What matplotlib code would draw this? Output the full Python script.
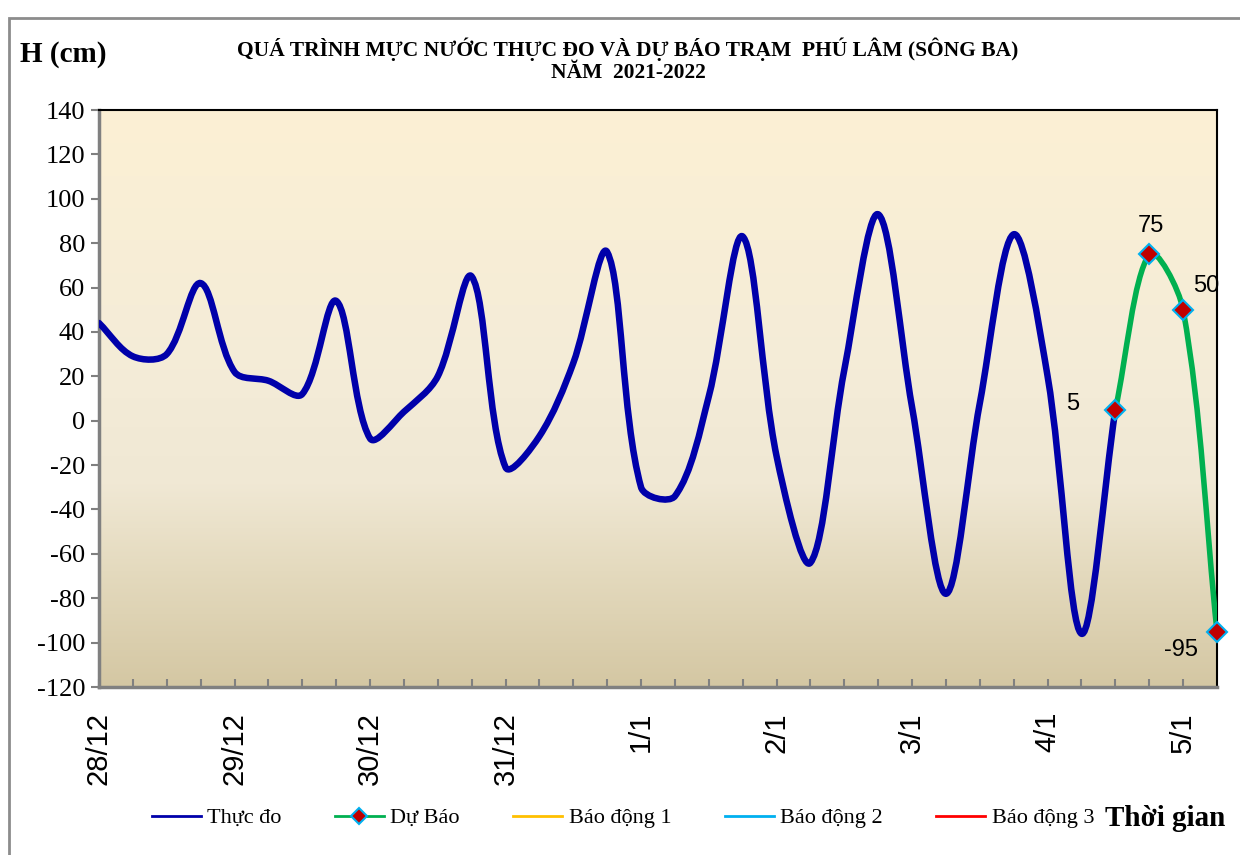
import matplotlib
matplotlib.use("Agg")
import matplotlib.pyplot as plt
import numpy as np
from matplotlib.path import Path
from matplotlib.patches import PathPatch, Rectangle
from matplotlib.lines import Line2D

# du lieu: moi diem cach nhau 6 gio, tu 28/12 den 5/1
thuc_do = [44, 29, 30, 62, 22, 18, 12, 54, -8, 4, 20, 65, -21, -7, 26, 76,
           -30, -34, 11, 83, -16, -64, 23, 93, 6, -78, 8, 84, 20, -96, 5]
du_bao = [5, 75, 50, -95]
du_bao_start = 30
ngay = ['28/12', '29/12', '30/12', '31/12', '1/1', '2/1', '3/1', '4/1', '5/1']
ngay_pos = [0, 4, 8, 12, 16, 20, 24, 28, 32]
n_diem = 34
y_ticks = list(range(-120, 141, 20))

serif = 'Liberation Serif'
sans = 'Liberation Sans'


def smooth_path(ax, x, y):
    # duong cong tron kieu Excel, tinh trong toa do man hinh
    P = ax.transData.transform(np.column_stack([x, y]).astype(float))
    n = len(P)
    verts = [P[0]]
    codes = [Path.MOVETO]
    for i in range(n - 1):
        p0 = P[i - 1] if i > 0 else P[i]
        p1, p2 = P[i], P[i + 1]
        p3 = P[i + 2] if i + 2 < n else P[i + 1]
        d01 = np.hypot(*(p1 - p0))
        d12 = np.hypot(*(p2 - p1))
        d23 = np.hypot(*(p3 - p2))
        c1 = p1 + (p2 - p0) * d12 / (d01 + d12) / 3.0
        c2 = p2 - (p3 - p1) * d12 / (d12 + d23) / 3.0
        verts += [c1, c2, p2]
        codes += [Path.CURVE4] * 3
    verts = ax.transData.inverted().transform(np.array(verts))
    return Path(verts, codes)


fig = plt.figure(figsize=(12.4, 8.55), dpi=100)
ax = fig.add_axes([99 / 1240, 1 - 687 / 855, 1118 / 1240, 577 / 855])
ax.set_xlim(0, n_diem - 1)
ax.set_ylim(-120, 140)

# nen gradient
stops_t = [0.0, 0.45, 0.65, 0.8, 1.0]
stops_c = np.array([[252, 240, 212], [244, 236, 216], [240, 232, 212],
                    [228, 218, 190], [212, 199, 163]]) / 255.0
t = np.linspace(0, 1, 300)
grad = np.stack([np.interp(t, stops_t, stops_c[:, k]) for k in range(3)], axis=1)
ax.imshow(grad[:, None, :], extent=[0, 1, 0, 1], transform=ax.transAxes,
          aspect='auto', zorder=0)
ax.set_xlim(0, n_diem - 1)
ax.set_ylim(-120, 140)

x_td = np.arange(len(thuc_do))
x_db = np.arange(du_bao_start, du_bao_start + len(du_bao))

ax.add_patch(PathPatch(smooth_path(ax, x_td, thuc_do), fill=False, color='#0000AA',
                       lw=4.7, capstyle='round', joinstyle='round', zorder=3))
ax.add_patch(PathPatch(smooth_path(ax, x_db, du_bao), fill=False, color='#00B050',
                       lw=4, capstyle='round', zorder=3))
ax.plot(x_db, du_bao, ls='none', marker='D', ms=10.5, mfc='#C00000', mec='#00B0F0',
        mew=1.5, zorder=4, clip_on=False)

offsets = [(-31, 4), (1, 20), (17, 17), (-26, -13)]
for xi, yi, off in zip(x_db, du_bao, offsets):
    ax.annotate(str(yi), (xi, yi), xytext=off, textcoords='offset points',
                ha='center', va='center', fontsize=17, family=sans)

ax.set_yticks(y_ticks)
ax.set_yticklabels([str(v) for v in y_ticks], family=serif, fontsize=19)
ax.tick_params(axis='y', direction='out', length=6, width=1.5, color='#808080', pad=4)

ax.set_xticks(ngay_pos)
ax.set_xticklabels(ngay, rotation=90, family=sans, fontsize=21, va='top', ha='center')
ax.set_xticks([i for i in range(n_diem - 1) if i not in ngay_pos], minor=True)
ax.tick_params(axis='x', which='both', direction='in', length=6, width=1.5,
               color='#808080', pad=18)

for s in ['left', 'bottom']:
    ax.spines[s].set_color('#808080')
    ax.spines[s].set_linewidth(2.5)
for s in ['top', 'right']:
    ax.spines[s].set_color('black')
    ax.spines[s].set_linewidth(1.5)

# chu thich
handles = [
    Line2D([], [], color='#0000AA', lw=2),
    Line2D([], [], color='#00B050', lw=2, marker='D', ms=8, mfc='#C00000',
           mec='#00B0F0', mew=1.5),
    Line2D([], [], color='#FFC000', lw=2),
    Line2D([], [], color='#00B0F0', lw=2),
    Line2D([], [], color='#FF0000', lw=2),
]
labels = ['Thực đo', 'Dự Báo', 'Báo động 1', 'Báo động 2', 'Báo động 3']
fig.legend(handles, labels, loc='center', bbox_to_anchor=(623 / 1240, 1 - 818 / 855),
           ncol=5, frameon=False, prop={'family': serif, 'size': 16},
           handlelength=2.2, handletextpad=0.3, columnspacing=2.4)

fig.text(1105 / 1240, 1 - 818 / 855, 'Thời gian', family=serif, fontweight='bold',
         fontsize=21, ha='left', va='center')
fig.text(20 / 1240, 1 - 55 / 855, 'H (cm)', family=serif, fontweight='bold',
         fontsize=21, ha='left', va='center')
fig.text(628 / 1240, 1 - 60 / 855,
         'QUÁ TRÌNH MỰC NƯỚC THỰC ĐO VÀ DỰ BÁO TRẠM  PHÚ LÂM (SÔNG BA)\nNĂM  2021-2022',
         family=serif, fontweight='bold', fontsize=15.5, ha='center', va='center',
         linespacing=1.1)

# khung ngoai
fig.patches.append(Rectangle((9 / 1240, -0.05), 1.1, 1 - 18 / 855 + 0.05,
                             transform=fig.transFigure, fill=False,
                             ec='#8C8C8C', lw=2))

fig.savefig('out.png', dpi=100)
